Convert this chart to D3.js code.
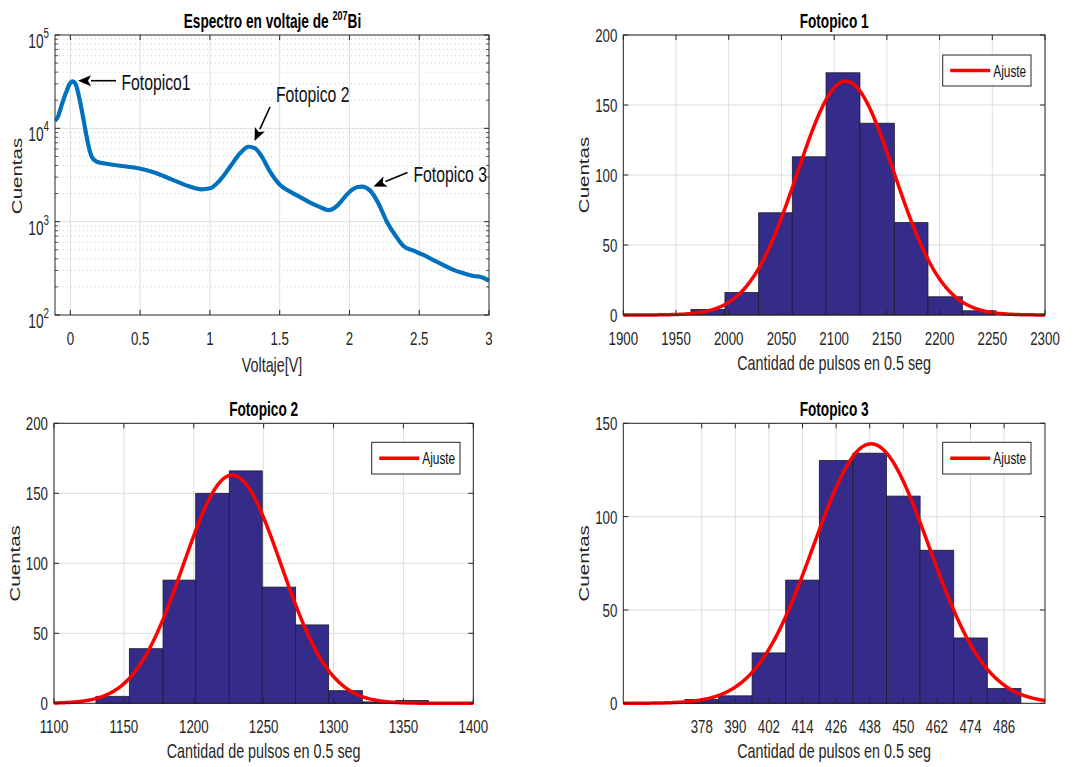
<!DOCTYPE html>
<html><head><meta charset="utf-8">
<script src="https://d3js.org/d3.v7.min.js"></script>
<style>html,body{margin:0;padding:0;background:#fff;}svg{display:block;}</style>
</head><body>
<svg id="c" width="1078" height="767"></svg>
<script>
// ---------- DATA ----------
const voltage = [-0.110,-0.091,-0.062,-0.033,-0.005,0.014,0.038,0.062,0.086,0.110,0.129,0.153,0.189,0.272,0.368,0.487,0.607,0.726,0.846,0.941,1.001,1.073,1.145,1.216,1.276,1.324,1.372,1.431,1.503,1.575,1.647,1.718,1.790,1.849,1.909,1.945,1.981,2.029,2.060,2.089,2.148,2.208,2.268,2.327,2.387,2.459,2.530,2.602,2.674,2.746,2.817,2.889,2.949,3.000];
const counts  = [12100,13100,17800,23700,29800,31900,29800,21800,14500,9200,6620,4970,4390,4150,3950,3730,3350,2840,2410,2220,2280,2790,3880,5400,6350,6110,4970,3430,2470,2100,1830,1600,1430,1330,1470,1680,1950,2250,2350,2370,2150,1570,1000,720,548,489,440,388,343,304,280,262,254,233];
const specXTicks = [0,0.5,1,1.5,2,2.5,3];
const specYTicks = [100,1000,10000,100000];
const specYExp = ["2","3","4","5"];

const f1Edges  = [1964.2,1996.4,2028.4,2060.3,2092.3,2124.5,2157.1,2189.0,2221.6,2253.5];
const f1Counts = [4,16,73,113,173,137,66,13,3];
const f1Fit    = [167,2111,46];      // amplitude, mean, sigma
const f1XTicks = [1900,1950,2000,2050,2100,2150,2200,2250,2300];
const f1YTicks = [0,50,100,150,200];

const f2Edges  = [1130,1153.9,1178,1201.4,1225.4,1249,1272.9,1296.5,1320.6,1344.5,1367.8];
const f2Counts = [5,39,88,150,166,83,56,9,1,2];
const f2Fit    = [163,1227.5,35];
const f2XTicks = [1100,1150,1200,1250,1300,1350,1400];
const f2YTicks = [0,50,100,150,200];

const f3Edges  = [372,384,396,408,420,432,444,456,468,480,492];
const f3Counts = [2,4,27,66,130,134,111,82,35,8];
const f3Fit    = [139,438.5,20.6];
const f3XTicks = [378,390,402,414,426,438,450,462,474,486];
const f3YTicks = [0,50,100,150];

// ---------- STYLE ----------
const K = 0.7;  // horizontal squeeze of text
const FONT = "'Liberation Sans', Arial, Helvetica, sans-serif";
const AX = "#262626";
const GRID = "#dedede";
const BAR = "#352b88";
const RED = "#ff0000";
const BLUE = "#0072bd";

const svg = d3.select("#c");

function txt(g, x, y, s, o = {}) {
  const t = g.append("text")
    .attr("transform", `translate(${x},${y}) scale(${K},1)` + (o.rot ? " rotate(-90)" : ""))
    .attr("font-family", FONT)
    .attr("font-size", o.size || 19)
    .attr("font-weight", o.weight || "normal")
    .attr("text-anchor", o.anchor || "start")
    .attr("fill", o.color || AX)
    .text(s);
  return t;
}

// ---------- SPECTRUM ----------
(function () {
  const L = 55, R = 489, T = 35, B = 315;
  const x = d3.scaleLinear().domain([-0.11, 3]).range([L, R]);
  const y = d3.scaleLog().domain([100, 100000]).range([B, T]);
  const g = svg.append("g");
  g.append("rect").attr("x", L).attr("y", T).attr("width", R - L).attr("height", B - T).attr("fill", "#fff");
  // minor grid
  const minors = [];
  [100, 1000, 10000].forEach(d => { for (let m = 2; m <= 9; m++) minors.push(d * m); });
  g.selectAll(".mg").data(minors).enter().append("line")
    .attr("x1", L).attr("x2", R).attr("y1", d => y(d)).attr("y2", d => y(d))
    .attr("stroke", "#c4c4c4").attr("stroke-width", 0.8).attr("stroke-dasharray", "1,3");
  // major grid
  g.selectAll(".gy").data(specYTicks.slice(1, 3)).enter().append("line")
    .attr("x1", L).attr("x2", R).attr("y1", d => y(d)).attr("y2", d => y(d))
    .attr("stroke", GRID).attr("stroke-width", 1);
  g.selectAll(".gx").data(specXTicks.slice(0, -1)).enter().append("line")
    .attr("x1", d => x(d)).attr("x2", d => x(d)).attr("y1", T).attr("y2", B)
    .attr("stroke", GRID).attr("stroke-width", 1);
  // data
  const clipId = "clipSpec";
  svg.append("clipPath").attr("id", clipId).append("rect").attr("x", L).attr("y", T).attr("width", R - L).attr("height", B - T);
  const pts = voltage.map((v, i) => [v, counts[i]]);
  g.append("path").datum(pts).attr("clip-path", `url(#${clipId})`)
    .attr("d", d3.line().x(d => x(d[0])).y(d => y(d[1])).curve(d3.curveMonotoneX))
    .attr("fill", "none").attr("stroke", BLUE).attr("stroke-width", 4.2).attr("stroke-linejoin", "round");
  // ticks
  specXTicks.forEach(v => {
    g.append("line").attr("x1", x(v)).attr("x2", x(v)).attr("y1", B).attr("y2", B - 5).attr("stroke", AX);
    g.append("line").attr("x1", x(v)).attr("x2", x(v)).attr("y1", T).attr("y2", T + 5).attr("stroke", AX);
    txt(g, x(v), B + 30, String(v), { anchor: "middle", size: 19 });
  });
  specYTicks.forEach((v, i) => {
    g.append("line").attr("x1", L).attr("x2", L + 5).attr("y1", y(v)).attr("y2", y(v)).attr("stroke", AX);
    g.append("line").attr("x1", R).attr("x2", R - 5).attr("y1", y(v)).attr("y2", y(v)).attr("stroke", AX);
    txt(g, 43.5, y(v) + 13, "10", { anchor: "end", size: 19.5 });
    txt(g, 43.5, y(v) + 3, specYExp[i], { anchor: "start", size: 14 });
  });
  minors.forEach(v => {
    g.append("line").attr("x1", L).attr("x2", L + 3).attr("y1", y(v)).attr("y2", y(v)).attr("stroke", AX).attr("stroke-width", 0.8);
    g.append("line").attr("x1", R).attr("x2", R - 3).attr("y1", y(v)).attr("y2", y(v)).attr("stroke", AX).attr("stroke-width", 0.8);
  });
  g.append("rect").attr("x", L).attr("y", T).attr("width", R - L).attr("height", B - T)
    .attr("fill", "none").attr("stroke", AX).attr("stroke-width", 1);
  // labels
  txt(g, 272, B + 57, "Voltaje[V]", { anchor: "middle", size: 20.5 });
  txt(g, 22, 176, "Cuentas", { anchor: "middle", size: 20.5, rot: true });
  const t = txt(g, 272.5, 28, "", { anchor: "middle", size: 19.5, weight: "bold", color: "#000" });
  t.append("tspan").text("Espectro en voltaje de ");
  t.append("tspan").attr("font-size", 13).attr("dy", -8).text("207");
  t.append("tspan").attr("dy", 8).text("Bi");
  // annotations
  function arrow(x1, y1, x2, y2) {
    const a = Math.atan2(y2 - y1, x2 - x1), len = 13, w = 5.5;
    const bx = x2 - len * Math.cos(a), by = y2 - len * Math.sin(a);
    g.append("line").attr("x1", x1).attr("y1", y1).attr("x2", bx).attr("y2", by).attr("stroke", "#000").attr("stroke-width", 1.6);
    const px = -Math.sin(a) * w, py = Math.cos(a) * w;
    g.append("path").attr("d", `M${x2},${y2}L${bx + px},${by + py}L${bx + 3 * Math.cos(a)},${by + 3 * Math.sin(a)}L${bx - px},${by - py}Z`).attr("fill", "#000");
  }
  arrow(116, 80.7, 78, 80.7);
  txt(g, 121.5, 90, "Fotopico1", { size: 22.5, color: "#111" });
  arrow(270, 107, 254.5, 141);
  txt(g, 276, 102, "Fotopico 2", { size: 22.5, color: "#111" });
  arrow(407.5, 172.5, 373.5, 186.5);
  txt(g, 413.5, 182, "Fotopico 3", { size: 22.5, color: "#111" });
})();

// ---------- HISTOGRAMS ----------
function hist(o) {
  const { L, R, T, B } = o;
  const x = d3.scaleLinear().domain(o.xDom).range([L, R]);
  const y = d3.scaleLinear().domain(o.yDom).range([B, T]);
  const g = svg.append("g");
  g.append("rect").attr("x", L).attr("y", T).attr("width", R - L).attr("height", B - T).attr("fill", "#fff");
  g.selectAll(".gx").data(o.xTicks).enter().append("line")
    .attr("x1", d => x(d)).attr("x2", d => x(d)).attr("y1", T).attr("y2", B)
    .attr("stroke", GRID).attr("stroke-width", 1);
  g.selectAll(".gy").data(o.yTicks).enter().append("line")
    .attr("x1", L).attr("x2", R).attr("y1", d => y(d)).attr("y2", d => y(d))
    .attr("stroke", GRID).attr("stroke-width", 1);
  const bins = o.counts.map((c, i) => ({ x0: o.edges[i], x1: o.edges[i + 1], c }));
  g.selectAll(".bar").data(bins).enter().append("rect")
    .attr("x", d => x(d.x0)).attr("width", d => x(d.x1) - x(d.x0))
    .attr("y", d => y(d.c)).attr("height", d => y(0) - y(d.c))
    .attr("fill", BAR).attr("stroke", "#1c1c2a").attr("stroke-width", 0.8);
  // fit
  const [A, mu, s] = o.fit;
  const fx = d3.range(0, 401).map(i => o.xDom[0] + (o.xDom[1] - o.xDom[0]) * i / 400);
  g.append("path").datum(fx)
    .attr("d", d3.line().x(d => x(d)).y(d => y(A * Math.exp(-((d - mu) ** 2) / (2 * s * s)))))
    .attr("fill", "none").attr("stroke", RED).attr("stroke-width", 3.5);
  // ticks
  o.xTicks.forEach(v => {
    g.append("line").attr("x1", x(v)).attr("x2", x(v)).attr("y1", B).attr("y2", B - 5).attr("stroke", AX);
    g.append("line").attr("x1", x(v)).attr("x2", x(v)).attr("y1", T).attr("y2", T + 5).attr("stroke", AX);
    txt(g, x(v), B + 30, String(v), { anchor: "middle", size: 19 });
  });
  o.yTicks.forEach(v => {
    g.append("line").attr("x1", L).attr("x2", L + 5).attr("y1", y(v)).attr("y2", y(v)).attr("stroke", AX);
    g.append("line").attr("x1", R).attr("x2", R - 5).attr("y1", y(v)).attr("y2", y(v)).attr("stroke", AX);
    txt(g, L - 6, y(v) + 7, String(v), { anchor: "end", size: 19 });
  });
  g.append("rect").attr("x", L).attr("y", T).attr("width", R - L).attr("height", B - T)
    .attr("fill", "none").attr("stroke", AX).attr("stroke-width", 1);
  txt(g, (L + R) / 2, B + 55, "Cantidad de pulsos en 0.5 seg", { anchor: "middle", size: 20.5 });
  txt(g, o.ylabX, (T + B) / 2, "Cuentas", { anchor: "middle", size: 20.5, rot: true });
  txt(g, (L + R) / 2, T - 7, o.title, { anchor: "middle", size: 19.5, weight: "bold", color: "#000" });
  // legend
  const lg = o.leg;
  g.append("rect").attr("x", lg[0]).attr("y", lg[1]).attr("width", lg[2]).attr("height", lg[3])
    .attr("fill", "#fff").attr("stroke", AX).attr("stroke-width", 1);
  const cy = lg[1] + lg[3] / 2;
  g.append("line").attr("x1", lg[0] + 7.5).attr("x2", lg[0] + 47.5).attr("y1", cy).attr("y2", cy)
    .attr("stroke", RED).attr("stroke-width", 3.5);
  txt(g, lg[0] + 50.5, cy + 6, "Ajuste", { size: 17, color: "#111" });
}

hist({ L: 623.3, R: 1045, T: 35, B: 315, xDom: [1900, 2300], yDom: [0, 200],
  xTicks: f1XTicks, yTicks: f1YTicks, edges: f1Edges, counts: f1Counts, fit: f1Fit,
  title: "Fotopico 1", ylabX: 589, leg: [942.7, 55, 88.3, 31] });
hist({ L: 54, R: 473.3, T: 423.3, B: 703.3, xDom: [1100, 1400], yDom: [0, 200],
  xTicks: f2XTicks, yTicks: f2YTicks, edges: f2Edges, counts: f2Counts, fit: f2Fit,
  title: "Fotopico 2", ylabX: 20, leg: [371.7, 442.3, 88.3, 31.7] });
hist({ L: 623.3, R: 1045, T: 423.3, B: 703.3, xDom: [350, 500.6], yDom: [0, 150],
  xTicks: f3XTicks, yTicks: f3YTicks, edges: f3Edges, counts: f3Counts, fit: f3Fit,
  title: "Fotopico 3", ylabX: 589, leg: [942.7, 442.3, 88.3, 31.7] });
</script>
</body></html>
